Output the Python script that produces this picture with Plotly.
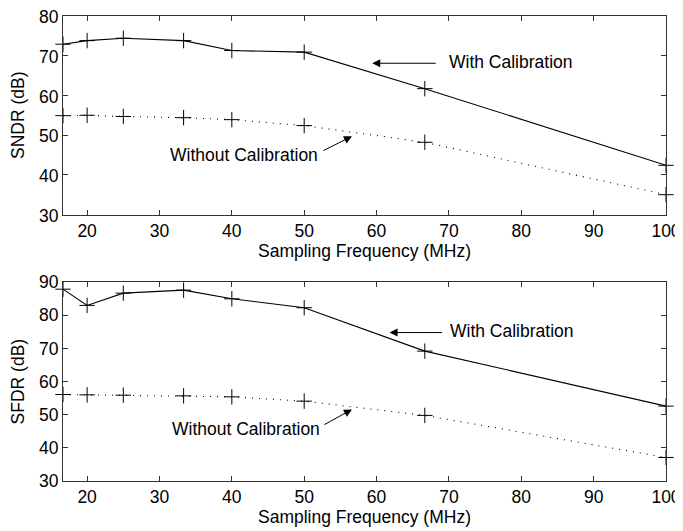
import plotly.graph_objects as go
from plotly.subplots import make_subplots

freq = [50/3, 20, 25, 100/3, 40, 50, 200/3, 100]
sndr_with = [72.9, 73.8, 74.4, 73.8, 71.3, 70.9, 61.7, 42.4]
sndr_without = [54.9, 55.0, 54.7, 54.4, 53.9, 52.4, 48.2, 35.0]
sfdr_with = [87.9, 83.0, 86.7, 87.6, 85.0, 82.3, 69.2, 52.6]
sfdr_without = [56.1, 56.0, 55.9, 55.7, 55.4, 54.1, 49.8, 37.1]

x_ticks = [20, 30, 40, 50, 60, 70, 80, 90, 100]
sndr_ticks = [30, 40, 50, 60, 70, 80]
sfdr_ticks = [30, 40, 50, 60, 70, 80, 90]

FONT = "Liberation Sans, Arial, Helvetica, sans-serif"
FS = 17.5

fig = make_subplots(rows=2, cols=1, vertical_spacing=0.147)

marker = dict(symbol="cross-thin-open", size=11, line=dict(width=1, color="black"), color="black")

for row, yw, yo in [(1, sndr_with, sndr_without), (2, sfdr_with, sfdr_without)]:
    fig.add_trace(go.Scatter(x=freq, y=yw, mode="lines+markers",
                             line=dict(color="black", width=1.1),
                             marker=marker, cliponaxis=False, showlegend=False),
                  row=row, col=1)
    fig.add_trace(go.Scatter(x=freq, y=yo, mode="lines+markers",
                             line=dict(color="black", width=1.1, dash="1px,6px"),
                             marker=marker, cliponaxis=False, showlegend=False),
                  row=row, col=1)

axis_common = dict(showline=True, linecolor="#333", linewidth=1, mirror="ticks",
                   ticks="inside", ticklen=5, tickcolor="#333", showgrid=False,
                   zeroline=False, automargin=False, ticklabeloverflow="allow",
                   tickfont=dict(family=FONT, size=FS, color="black"))

for row in (1, 2):
    fig.update_xaxes(range=[50/3, 100], tickvals=x_ticks,
                     title=dict(text="Sampling Frequency (MHz)", font=dict(family=FONT, size=FS, color="black"), standoff=0),
                     row=row, col=1, **axis_common)

fig.update_yaxes(range=[30, 80], tickvals=sndr_ticks, ticklabelshift=1,
                 title=dict(text="SNDR (dB)", font=dict(family=FONT, size=FS, color="black")),
                 row=1, col=1, **axis_common)
fig.update_yaxes(range=[30, 90], tickvals=sfdr_ticks,
                 title=dict(text="SFDR (dB)", font=dict(family=FONT, size=FS, color="black")),
                 row=2, col=1, **axis_common)

# page body adds an 8px offset, so the figure is sized to fit the window
fig.update_layout(
    width=675, height=523,
    margin=dict(l=55, r=17, t=8, b=50),
    paper_bgcolor="white", plot_bgcolor="white",
    font=dict(family=FONT, size=FS, color="black"),
)
fig.layout.yaxis.domain = [0.573, 1.0]
fig.layout.yaxis2.domain = [0.0, 0.4275]

afont = dict(family=FONT, size=FS, color="black")
# Top panel annotations
fig.add_annotation(x=69.7, y=68.3, xref="x", yref="y", text="With Calibration",
                   showarrow=False, xanchor="left", yanchor="middle", font=afont)
fig.add_annotation(x=59.4, y=68.1, xref="x", yref="y", text="", showarrow=True,
                   ax=65, ay=0, arrowhead=2, arrowsize=1.6, arrowwidth=1, arrowcolor="black")
fig.add_annotation(x=52.2, y=45.1, xref="x", yref="y", text="Without Calibration",
                   showarrow=False, xanchor="right", yanchor="middle", font=afont)
fig.add_annotation(x=56.6, y=49.7, xref="x", yref="y", text="", showarrow=True,
                   ax=-30, ay=15, arrowhead=2, arrowsize=1.6, arrowwidth=1, arrowcolor="black")
# Bottom panel annotations
fig.add_annotation(x=69.9, y=75.3, xref="x2", yref="y2", text="With Calibration",
                   showarrow=False, xanchor="left", yanchor="middle", font=afont)
fig.add_annotation(x=61.8, y=74.8, xref="x2", yref="y2", text="", showarrow=True,
                   ax=54, ay=0, arrowhead=2, arrowsize=1.6, arrowwidth=1, arrowcolor="black")
fig.add_annotation(x=52.45, y=45.55, xref="x2", yref="y2", text="Without Calibration",
                   showarrow=False, xanchor="right", yanchor="middle", font=afont)
fig.add_annotation(x=56.6, y=51.6, xref="x2", yref="y2", text="", showarrow=True,
                   ax=-29, ay=16, arrowhead=2, arrowsize=1.6, arrowwidth=1, arrowcolor="black")

fig.write_html("out.html")
